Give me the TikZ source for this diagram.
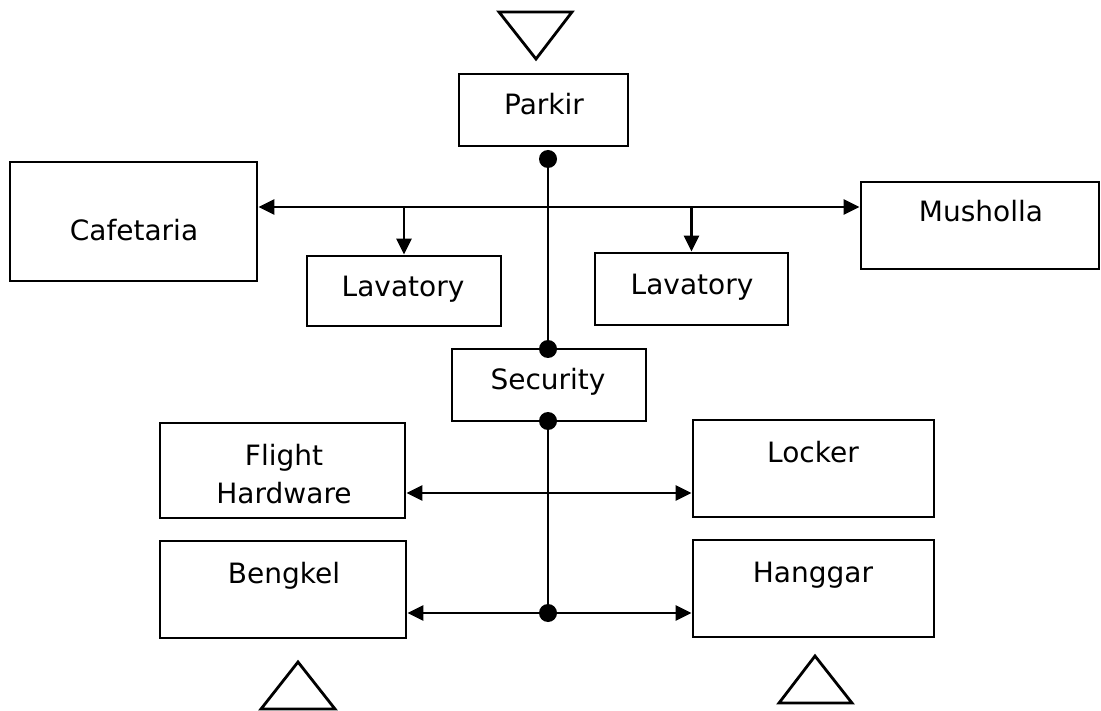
\documentclass[tikz,border=0pt]{standalone}
\usepackage{fontspec}
\setmainfont{DejaVu Sans}
\usetikzlibrary{arrows.meta,calc}
\begin{document}
\begin{tikzpicture}[x=1pt,y=-1pt,line width=2.8pt,
  box/.style={draw,line width=2.8pt,inner sep=0pt},
  txt/.style={anchor=base,inner sep=0pt,font=\fontsize{28}{38}\selectfont},
  arr/.style={-{Triangle[length=16pt,width=15pt]},line width=2.6pt},
  dot/.style={circle,fill=black,inner sep=0pt,minimum size=18pt},
  tri/.style={draw,line width=2.8pt,line join=miter}]
\useasboundingbox (0,0) rectangle (1101,711);
% boxes
\node[box,minimum width=169pt,minimum height=72pt] (parkir) at (543.5,110) {};
\node[box,minimum width=247pt,minimum height=119pt] (cafe) at (133.5,221.5) {};
\node[box,minimum width=194pt,minimum height=70pt] (lavA) at (404,291) {};
\node[box,minimum width=193pt,minimum height=72pt] (lavB) at (691.5,289) {};
\node[box,minimum width=238pt,minimum height=87pt] (mush) at (980,225.5) {};
\node[box,minimum width=194pt,minimum height=72pt] (sec) at (549,385) {};
\node[box,minimum width=245pt,minimum height=95pt] (fh) at (282.5,470.5) {};
\node[box,minimum width=241pt,minimum height=97pt] (lock) at (813.5,468.5) {};
\node[box,minimum width=246pt,minimum height=97pt] (beng) at (283,589.5) {};
\node[box,minimum width=241pt,minimum height=97pt] (hang) at (813.5,588.5) {};
% texts
\node[txt] (tparkir) at (544,115) {Parkir};
\node[txt] (tcafe) at (134,241) {Cafetaria};
\node[txt] (tlavA) at (403,297) {Lavatory};
\node[txt] (tlavB) at (692,295) {Lavatory};
\node[txt] (tmush) at (981,222) {Musholla};
\node[txt] (tsec) at (548,390) {Security};
\node[txt] (tfh1) at (284,465) {Flight};
\node[txt] (tfh2) at (284,503) {Hardware};
\node[txt] (tlock) at (813,462) {Locker};
\node[txt] (tbeng) at (284,583) {Bengkel};
\node[txt] (thang) at (813,582) {Hanggar};
% junction points
\node[dot] (d1) at (548,159) {};
\node[dot] (d2) at (548,349) {};
\node[dot] (d3) at (548,421) {};
\node[dot] (d4) at (548,613) {};
\coordinate (h) at (548,207);
\coordinate (m1) at (548,493);
% connectors
\draw (d1.center) -- (d2.center);
\draw (d3.center) -- (d4.center);
\draw[arr] (h) -- (cafe.east |- h);
\draw[arr] (h) -- (mush.west |- h);
\draw[arr] (lavA.north |- h) -- (lavA.north);
\draw[arr] (lavB.north |- h) -- (lavB.north);
\draw[arr] (m1) -- (fh.east |- m1);
\draw[arr] (m1) -- (lock.west |- m1);
\draw[arr] (d4.center) -- (beng.east |- d4.center);
\draw[arr] (d4.center) -- (hang.west |- d4.center);
% triangles
\draw[tri] (499,12) -- (572,12) -- (536,59) -- cycle;
\draw[tri] (298,662) -- (335,709) -- (261,709) -- cycle;
\draw[tri] (815,656) -- (852,703) -- (779,703) -- cycle;
\end{tikzpicture}
\end{document}
